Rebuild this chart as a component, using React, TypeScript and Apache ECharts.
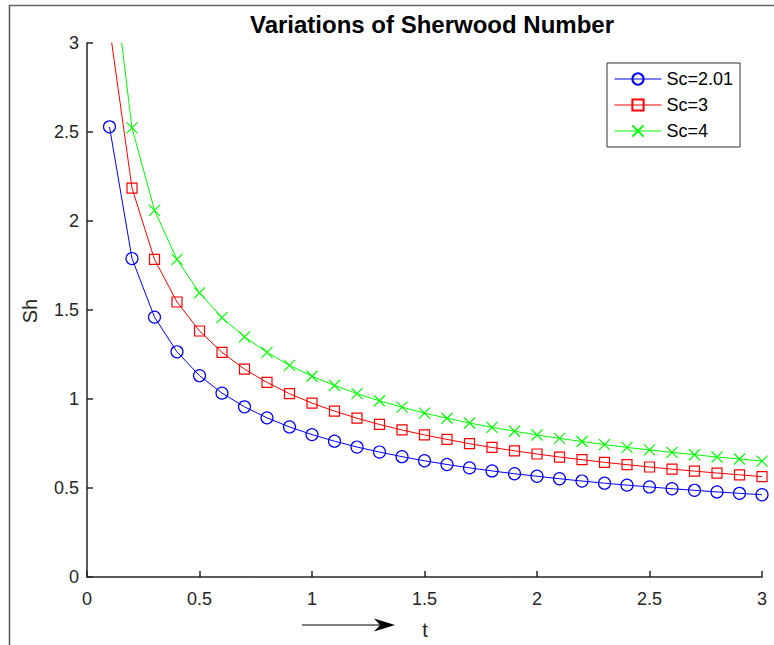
import React, { useEffect, useRef } from "react";
import * as echarts from "echarts";

const tValues = [0.1, 0.2, 0.3, 0.4, 0.5, 0.6, 0.7, 0.8, 0.9, 1.0, 1.1, 1.2, 1.3, 1.4, 1.5, 1.6, 1.7, 1.8, 1.9, 2.0, 2.1, 2.2, 2.3, 2.4, 2.5, 2.6, 2.7, 2.8, 2.9, 3.0];
const shSc201 = [2.529, 1.789, 1.46, 1.265, 1.131, 1.033, 0.956, 0.894, 0.843, 0.8, 0.763, 0.73, 0.702, 0.676, 0.653, 0.632, 0.613, 0.596, 0.58, 0.566, 0.552, 0.539, 0.527, 0.516, 0.506, 0.496, 0.487, 0.478, 0.47, 0.462];
const shSc3 = [3.09, 2.185, 1.784, 1.545, 1.382, 1.262, 1.168, 1.093, 1.03, 0.977, 0.932, 0.892, 0.857, 0.826, 0.798, 0.773, 0.749, 0.728, 0.709, 0.691, 0.674, 0.659, 0.644, 0.631, 0.618, 0.606, 0.595, 0.584, 0.574, 0.564];
const shSc4 = [3.568, 2.523, 2.06, 1.784, 1.596, 1.457, 1.349, 1.262, 1.189, 1.128, 1.076, 1.03, 0.99, 0.954, 0.921, 0.892, 0.865, 0.841, 0.819, 0.798, 0.779, 0.761, 0.744, 0.728, 0.714, 0.7, 0.687, 0.674, 0.663, 0.651];
const seriesNames = ["Sc=2.01", "Sc=3", "Sc=4"];
const titleText = "Variations of Sherwood Number";
const xLabel = "t";
const yLabel = "Sh";

const FONT = "'Liberation Sans', Arial, Helvetica, sans-serif";
const AXIS_COLOR = "#262626";

function pairs(ys: number[]) {
  return ys.map((y, i) => [tValues[i], y]);
}

export default function App() {
  const ref = useRef<HTMLDivElement>(null);
  useEffect(() => {
    if (!ref.current) return;
    const chart = echarts.init(ref.current, null, { renderer: "svg" });
    const axisCommon = {
      type: "value" as const,
      min: 0,
      max: 3,
      interval: 0.5,
      axisLine: { show: true, onZero: false, lineStyle: { color: AXIS_COLOR, width: 1.5 } },
      axisTick: { show: true, inside: true, length: 6, lineStyle: { color: AXIS_COLOR, width: 1.5 } },
      splitLine: { show: false },
      axisLabel: { color: AXIS_COLOR, fontSize: 18, fontFamily: FONT },
    };
    const xMark = "path://M0,0L10,10M10,0L0,10";
    chart.setOption({
      animation: false,
      backgroundColor: "#ffffff",
      grid: { left: 87, top: 43, right: 12, bottom: 68, containLabel: false },
      xAxis: { ...axisCommon, axisLabel: { ...axisCommon.axisLabel, margin: 13 } },
      yAxis: { ...axisCommon, axisLabel: { ...axisCommon.axisLabel, margin: 8 } },
      legend: {
        orient: "vertical",
        left: 607,
        top: 63,
        itemWidth: 47,
        itemHeight: 14,
        itemGap: 8,
        padding: [7, 7, 7, 7],
        borderColor: "#333333",
        borderWidth: 1,
        backgroundColor: "#ffffff",
        lineStyle: { width: 1 },
        textStyle: { fontSize: 18, fontFamily: FONT, color: "#000000" },
        data: seriesNames,
      },
      series: [
        {
          name: seriesNames[0],
          type: "line",
          data: pairs(shSc201),
          symbol: "circle",
          symbolSize: 12,
          clip: true,
          lineStyle: { color: "#0000ff", width: 1 },
          itemStyle: { color: "rgba(0,0,0,0)", borderColor: "#0000ff", borderWidth: 1.2 },
        },
        {
          name: seriesNames[1],
          type: "line",
          data: pairs(shSc3),
          symbol: "rect",
          symbolSize: 10,
          clip: true,
          lineStyle: { color: "#ff0000", width: 1 },
          itemStyle: { color: "rgba(0,0,0,0)", borderColor: "#ff0000", borderWidth: 1.2 },
        },
        {
          name: seriesNames[2],
          type: "line",
          data: pairs(shSc4),
          symbol: xMark,
          symbolSize: 11,
          clip: true,
          lineStyle: { color: "#00ff00", width: 1 },
          itemStyle: { color: "rgba(0,0,0,0)", borderColor: "#00ff00", borderWidth: 1.2 },
        },
      ],
      graphic: [
        { type: "line", shape: { x1: 9.5, y1: 5, x2: 9.5, y2: 645 }, style: { stroke: "#555555", lineWidth: 1.5 }, silent: true },
        { type: "line", shape: { x1: 9, y1: 5.5, x2: 774, y2: 5.5 }, style: { stroke: "#666666", lineWidth: 1.5 }, silent: true },
        {
          type: "text",
          x: 432,
          y: 24,
          style: { text: titleText, font: `bold 24px ${FONT}`, fill: "#000000", textAlign: "center", textVerticalAlign: "middle" },
        },
        {
          type: "text",
          x: 30,
          y: 311,
          rotation: Math.PI / 2,
          style: { text: yLabel, font: `20px ${FONT}`, fill: AXIS_COLOR, textAlign: "center", textVerticalAlign: "middle" },
        },
        {
          type: "text",
          x: 425,
          y: 630,
          style: { text: xLabel, font: `20px ${FONT}`, fill: AXIS_COLOR, textAlign: "center", textVerticalAlign: "middle" },
        },
        { type: "line", shape: { x1: 302, y1: 625, x2: 382, y2: 625 }, style: { stroke: "#000000", lineWidth: 1 } },
        {
          type: "polygon",
          shape: { points: [[395, 625], [374, 618.5], [380, 625], [374, 631.5]] },
          style: { fill: "#000000" },
        },
      ],
    });
    return () => chart.dispose();
  }, []);
  return <div ref={ref} style={{ position: "fixed", left: 0, top: 0, width: 774, height: 645 }} />;
}
